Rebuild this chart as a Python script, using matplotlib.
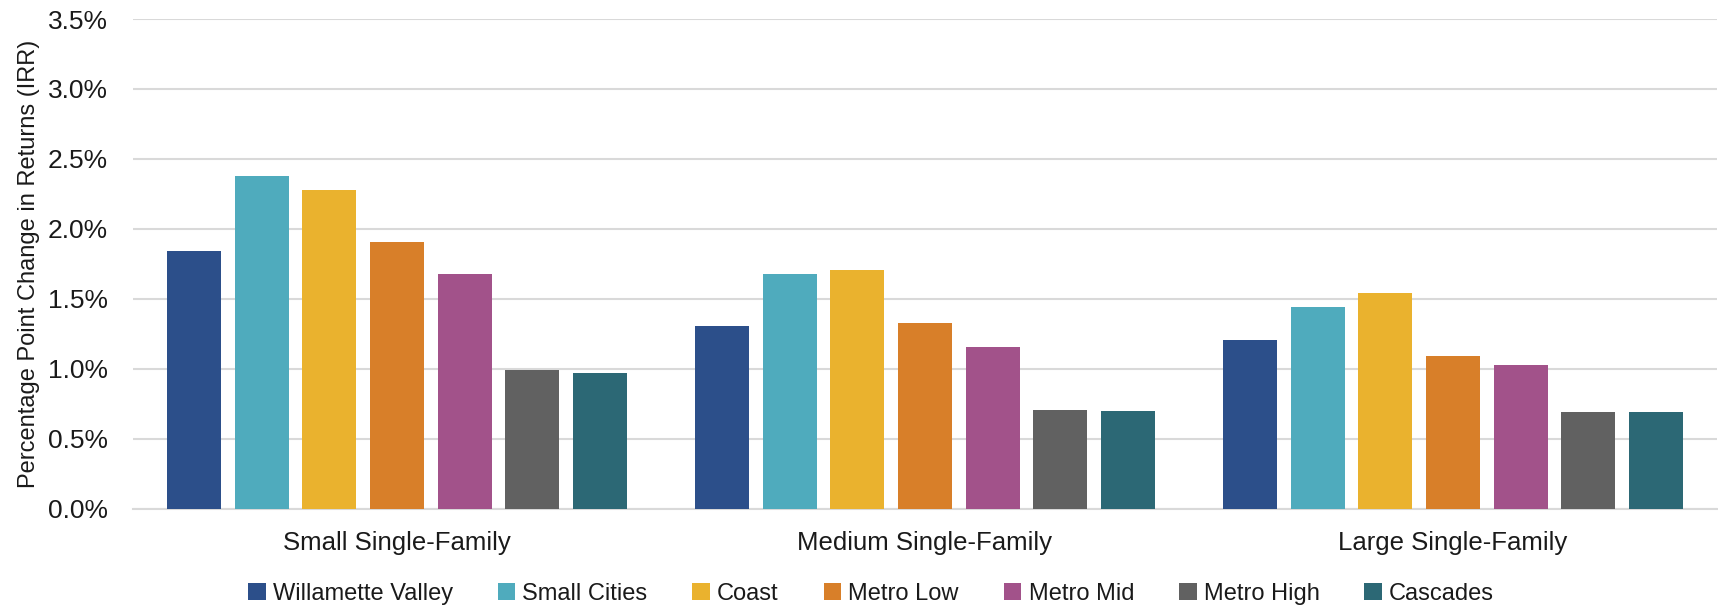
import numpy as np
import matplotlib
matplotlib.use("Agg")
from matplotlib import pyplot as plt
from matplotlib.ticker import FuncFormatter

categories = ["Small Single-Family", "Medium Single-Family", "Large Single-Family"]
regions = ["Willamette Valley", "Small Cities", "Coast", "Metro Low",
           "Metro Mid", "Metro High", "Cascades"]

# percentage point change, per region, across the three categories
willamette = [1.84, 1.31, 1.21]
small_cities = [2.38, 1.68, 1.44]
coast = [2.28, 1.71, 1.54]
metro_low = [1.91, 1.33, 1.09]
metro_mid = [1.68, 1.16, 1.03]
metro_high = [0.99, 0.71, 0.69]
cascades = [0.97, 0.70, 0.69]

series = [willamette, small_cities, coast, metro_low, metro_mid, metro_high, cascades]
colors = ["#2C4F8A", "#4FABBD", "#EAB22E", "#D87F29", "#A2528A", "#616161", "#2C6875"]

plt.rcParams['font.family'] = ['Liberation Sans', 'DejaVu Sans']

fig = plt.figure(figsize=(17.18, 6.13), dpi=100)
ax = fig.add_axes([0.0774, 0.1697, 0.9220, 0.7993])

x = np.arange(len(categories))
pitch = 0.1282
width = 0.1023
for i, (vals, c) in enumerate(zip(series, colors)):
    off = (i - 3) * pitch
    ax.bar(x + off, vals, width, color=c, label=regions[i], zorder=3)

ax.set_xlim(-0.5, 2.5)
ax.set_ylim(0, 3.5)
ax.set_yticks(np.arange(0, 3.51, 0.5))
ax.yaxis.set_major_formatter(FuncFormatter(lambda v, p: "%.1f%%" % v))
ax.grid(axis='y', color='#D9D9D9', linewidth=1.5, zorder=0)
for s in ['top', 'right', 'left']:
    ax.spines[s].set_visible(False)
ax.spines['bottom'].set_color('#D9D9D9')
ax.spines['bottom'].set_linewidth(1.5)
ax.tick_params(axis='both', length=0, colors='#1a1a1a')
ax.tick_params(axis='y', labelsize=19, pad=18)
ax.set_xticks(x)
ax.set_xticklabels(categories, fontsize=18.5)
ax.tick_params(axis='x', pad=16)
ax.set_ylabel("Percentage Point Change in Returns (IRR)", fontsize=17, color='#1a1a1a')
ax.yaxis.set_label_coords(-0.059, 0.5)

leg = fig.legend(loc='center', bbox_to_anchor=(0.507, 0.031), ncol=7, frameon=False,
                 handlelength=0.75, handleheight=0.75, handletextpad=0.3,
                 columnspacing=1.9, prop={'size': 17})
for t in leg.get_texts():
    t.set_color('#1a1a1a')

fig.savefig("out.png", dpi=100)
